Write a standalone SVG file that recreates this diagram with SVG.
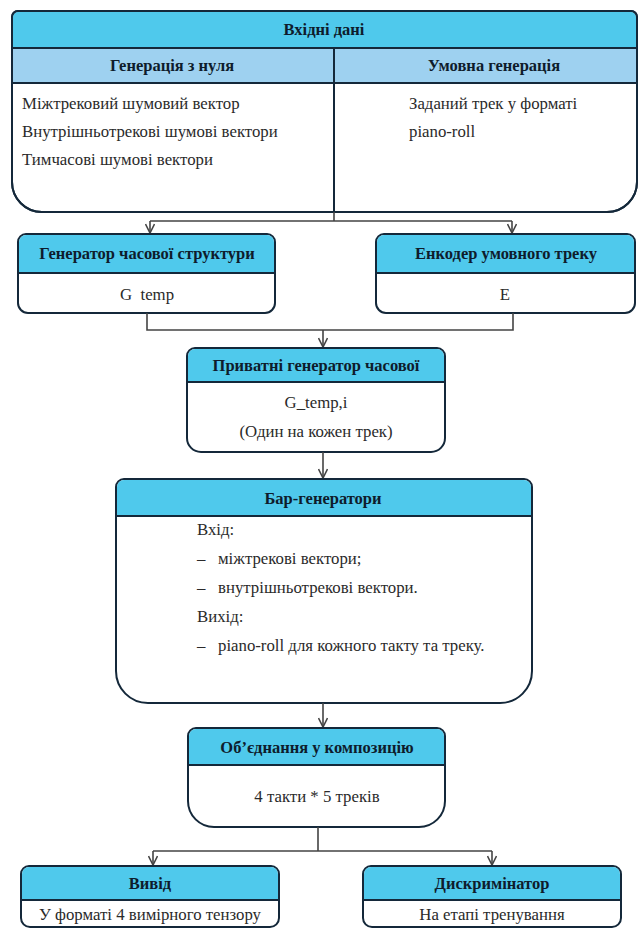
<svg xmlns="http://www.w3.org/2000/svg" width="638" height="929" viewBox="0 0 638 929">
  <style>
    .frame { fill: #ffffff; stroke: #14283a; stroke-width: 2; }
    .hdr { fill: #4fc9ec; stroke: none; }
    .sub { fill: #9ed1f0; stroke: none; }
    .sep { stroke: #14283a; stroke-width: 2; fill: none; }
    .ht { font-family: 'Liberation Serif', serif; font-weight: bold; font-size: 16.5px; fill: #0e1c2c; text-anchor: middle; }
    .bt { font-family: 'Liberation Serif', serif; font-size: 16.8px; fill: #2a2a2a; }
    .c { text-anchor: middle; }
    .wire { stroke: #444444; stroke-width: 1.6; fill: none; }
  </style>
  <defs>
    <marker id="arr" viewBox="0 0 10 10" refX="10" refY="5" markerWidth="10" markerHeight="10" markerUnits="userSpaceOnUse" orient="auto">
      <path d="M1,0.5 L10,5 L1,9.5" fill="none" stroke="#444444" stroke-width="1.6"/>
    </marker>
  </defs>

  <rect width="638" height="929" fill="#ffffff"/>

  <!-- Input data panel -->
  <g id="input">
    <path class="frame" d="M18,11 H631 A6,6 0 0 1 637,17 V182 A30,30 0 0 1 607,212 H42 A30,30 0 0 1 12,182 V17 A6,6 0 0 1 18,11 Z"/>
    <path class="hdr" d="M13,48 V17 A5,5 0 0 1 18,12 H631 A5,5 0 0 1 636,17 V48 Z"/>
    <rect class="sub" x="13" y="48" width="623" height="35"/>
    <path class="sep" d="M12,48 H637 M12,83 H637 M334,48 V212"/>
    <path class="frame" style="fill:none" d="M18,11 H631 A6,6 0 0 1 637,17 V182 A30,30 0 0 1 607,212 H42 A30,30 0 0 1 12,182 V17 A6,6 0 0 1 18,11 Z"/>
    <text class="ht" x="324" y="35">Вхідні дані</text>
    <text class="ht" x="172" y="71">Генерація з нуля</text>
    <text class="ht" x="494" y="71">Умовна генерація</text>
    <text class="bt" x="22" y="109">Міжтрековий шумовий вектор</text>
    <text class="bt" x="22" y="137">Внутрішньотрекові шумові вектори</text>
    <text class="bt" x="22" y="165">Тимчасові шумові вектори</text>
    <text class="bt" x="409" y="109">Заданий трек у форматі</text>
    <text class="bt" x="409" y="137">piano-roll</text>
  </g>

  <!-- Temporal structure generator -->
  <g id="gen-temp">
    <path class="frame" d="M26,234 H267 A8,8 0 0 1 275,242 V303 A10,10 0 0 1 265,313 H28 A10,10 0 0 1 18,303 V242 A8,8 0 0 1 26,234 Z"/>
    <path class="hdr" d="M19,273 V242 A7,7 0 0 1 26,235 H267 A7,7 0 0 1 274,242 V273 Z"/>
    <path class="sep" d="M18,273 H275"/>
    <text class="ht" x="147" y="259">Генератор часової структури</text>
    <text class="bt c" x="147" y="300" xml:space="preserve">G  temp</text>
  </g>

  <!-- Conditional track encoder -->
  <g id="encoder">
    <path class="frame" d="M384,234 H627 A8,8 0 0 1 635,242 V303 A10,10 0 0 1 625,313 H386 A10,10 0 0 1 376,303 V242 A8,8 0 0 1 384,234 Z"/>
    <path class="hdr" d="M377,273 V242 A7,7 0 0 1 384,235 H627 A7,7 0 0 1 634,242 V273 Z"/>
    <path class="sep" d="M376,273 H635"/>
    <text class="ht" x="506" y="259">Енкодер умовного треку</text>
    <text class="bt c" x="505" y="300">E</text>
  </g>

  <!-- Private temporal generators -->
  <g id="gen-private">
    <path class="frame" d="M195,348 H437 A8,8 0 0 1 445,356 V438 A14,14 0 0 1 431,452 H201 A14,14 0 0 1 187,438 V356 A8,8 0 0 1 195,348 Z"/>
    <path class="hdr" d="M188,382 V356 A7,7 0 0 1 195,349 H437 A7,7 0 0 1 444,356 V382 Z"/>
    <path class="sep" d="M187,382 H445"/>
    <text class="ht" x="316" y="371">Приватні генератор часової</text>
    <text class="bt c" x="316" y="408">G_temp,i</text>
    <text class="bt c" x="316" y="437">(Один на кожен трек)</text>
  </g>

  <!-- Bar generators -->
  <g id="bar-gen">
    <path class="frame" d="M124,479 H524 A8,8 0 0 1 532,487 V671 A32,32 0 0 1 500,703 H148 A32,32 0 0 1 116,671 V487 A8,8 0 0 1 124,479 Z"/>
    <path class="hdr" d="M117,516 V487 A7,7 0 0 1 124,480 H524 A7,7 0 0 1 531,487 V516 Z"/>
    <path class="sep" d="M116,516 H532"/>
    <text class="ht" x="323" y="504">Бар-генератори</text>
    <text class="bt" x="197" y="535">Вхід:</text>
    <text class="bt" x="197" y="564">–</text>
    <text class="bt" x="218" y="564">міжтрекові вектори;</text>
    <text class="bt" x="197" y="593">–</text>
    <text class="bt" x="218" y="593">внутрішньотрекові вектори.</text>
    <text class="bt" x="197" y="622">Вихід:</text>
    <text class="bt" x="197" y="651">–</text>
    <text class="bt" x="218" y="651">piano-roll для кожного такту та треку.</text>
  </g>

  <!-- Composition merge -->
  <g id="merge">
    <path class="frame" d="M196,728 H437 A8,8 0 0 1 445,736 V801 A26,26 0 0 1 419,827 H214 A26,26 0 0 1 188,801 V736 A8,8 0 0 1 196,728 Z"/>
    <path class="hdr" d="M189,765 V736 A7,7 0 0 1 196,729 H437 A7,7 0 0 1 444,736 V765 Z"/>
    <path class="sep" d="M188,765 H445"/>
    <text class="ht" x="317" y="753">Об’єднання у композицію</text>
    <text class="bt c" x="317" y="802">4 такти * 5 треків</text>
  </g>

  <!-- Output -->
  <g id="output">
    <path class="frame" d="M29,866 H271 A8,8 0 0 1 279,874 V918 A9,9 0 0 1 270,927 H30 A9,9 0 0 1 21,918 V874 A8,8 0 0 1 29,866 Z"/>
    <path class="hdr" d="M22,900 V874 A7,7 0 0 1 29,867 H271 A7,7 0 0 1 278,874 V900 Z"/>
    <path class="sep" d="M21,900 H279"/>
    <text class="ht" x="150" y="889">Вивід</text>
    <text class="bt c" x="150" y="920">У форматі 4 вимірного тензору</text>
  </g>

  <!-- Discriminator -->
  <g id="discriminator">
    <path class="frame" d="M371,866 H613 A8,8 0 0 1 621,874 V918 A9,9 0 0 1 612,927 H372 A9,9 0 0 1 363,918 V874 A8,8 0 0 1 371,866 Z"/>
    <path class="hdr" d="M364,900 V874 A7,7 0 0 1 371,867 H613 A7,7 0 0 1 620,874 V900 Z"/>
    <path class="sep" d="M363,900 H621"/>
    <text class="ht" x="492" y="889">Дискримінатор</text>
    <text class="bt c" x="492" y="920">На етапі тренування</text>
  </g>

  <!-- Connectors -->
  <g id="connectors">
    <path class="wire" d="M334,212 V221 M150,221 H512"/>
    <path class="wire" d="M150,221 V233" marker-end="url(#arr)"/>
    <path class="wire" d="M512,221 V233" marker-end="url(#arr)"/>
    <path class="wire" d="M147,313 V330 H513 V313"/>
    <path class="wire" d="M323,330 V347" marker-end="url(#arr)"/>
    <path class="wire" d="M323,452 V478" marker-end="url(#arr)"/>
    <path class="wire" d="M323,703 V727" marker-end="url(#arr)"/>
    <path class="wire" d="M318,827 V851 M153,851 H492"/>
    <path class="wire" d="M153,851 V865" marker-end="url(#arr)"/>
    <path class="wire" d="M492,851 V865" marker-end="url(#arr)"/>
  </g>
</svg>
